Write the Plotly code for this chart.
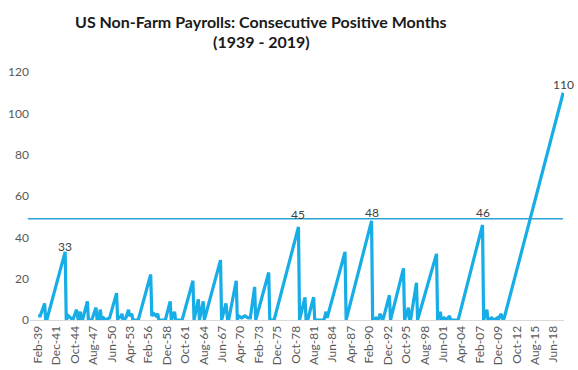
import plotly.graph_objects as go

# Vertices of the monthly streak series (month, consecutive positive months)
dates = [
    "1939-02", "1939-06", "1940-02", "1940-04", "1940-06", "1943-04", "1943-06", "1943-10",
    "1944-02", "1944-06", "1945-01", "1945-04", "1945-08", "1945-10", "1945-12", "1946-09",
    "1946-11", "1947-05", "1948-01", "1948-03", "1948-05", "1948-09", "1948-11", "1949-03",
    "1949-06", "1950-02", "1951-03", "1951-05", "1951-08", "1951-10", "1952-01", "1952-03",
    "1952-08", "1953-01", "1953-03", "1953-07", "1953-09", "1954-07", "1956-06", "1956-08",
    "1956-12", "1957-04", "1957-07", "1957-09", "1958-09", "1959-06", "1959-08", "1960-02",
    "1960-04", "1961-04", "1962-12", "1963-02", "1963-10", "1963-12", "1964-07", "1964-09",
    "1967-03", "1967-05", "1968-01", "1968-04", "1968-06", "1969-08", "1969-10", "1969-12",
    "1970-06", "1970-12", "1971-06", "1971-10", "1972-06", "1972-08", "1974-08", "1974-10",
    "1975-06", "1979-03", "1979-05", "1980-03", "1980-05", "1980-08", "1981-07", "1981-09",
    "1983-02", "1983-06", "1983-08", "1986-05", "1986-07", "1990-06", "1990-08", "1991-02",
    "1991-06", "1991-10", "1992-02", "1992-04", "1993-03", "1993-05", "1995-05", "1995-07",
    "1996-02", "1996-04", "1996-06", "1997-05", "1997-07", "2000-06", "2000-08", "2001-01",
    "2001-03", "2001-08", "2001-12", "2002-06", "2002-08", "2003-10", "2007-07", "2007-09",
    "2008-03", "2008-05", "2008-12", "2009-04", "2009-10", "2009-12", "2010-05", "2010-07",
    "2010-09", "2010-11", "2019-12",
]
streak = [
    2, 2, 8, 0, 0, 33, 0, 2,
    1, 0, 5, 0, 4, 0, 0, 9,
    0, 0, 6, 0, 0, 5, 0, 1,
    0, 1, 13, 0, 2, 1, 3, 0,
    1, 5, 2, 3, 0, 0, 22, 2,
    3, 2, 3, 0, 0, 9, 0, 4,
    0, 0, 19, 0, 10, 0, 9, 0,
    29, 0, 8, 0, 0, 19, 0, 2,
    1, 2, 1, 1, 16, 0, 23, 0,
    0, 45, 0, 11, 0, 0, 11, 0,
    0, 4, 1, 33, 0, 48, 0, 1,
    0, 3, 0, 1, 12, 0, 25, 0,
    6, 0, 0, 18, 0, 32, 0, 4,
    0, 1, 0, 2, 0, 0, 46, 0,
    5, 0, 1, 0, 1, 0, 3, 1,
    0, 1, 110,
]

# Peaks that carry a value label
label_dates = ["1943-04", "1979-03", "1990-06", "2007-07", "2019-12"]
label_values = [33, 45, 48, 46, 110]
label_shift = [5, 13, 8, 12, 8]

# Reference line (previous record level)
record_level = 49

title_lines = ["US Non-Farm Payrolls: Consecutive Positive Months", "(1939 - 2019)"]

tick_labels = [
    "Feb-39", "Dec-41", "Oct-44", "Aug-47", "Jun-50", "Apr-53", "Feb-56", "Dec-58",
    "Oct-61", "Aug-64", "Jun-67", "Apr-70", "Feb-73", "Dec-75", "Oct-78", "Aug-81",
    "Jun-84", "Apr-87", "Feb-90", "Dec-92", "Oct-95", "Aug-98", "Jun-01", "Apr-04",
    "Feb-07", "Dec-09", "Oct-12", "Aug-15", "Jun-18",
]
y_ticks = [0, 20, 40, 60, 80, 100, 120]

MONTHS = ["Jan", "Feb", "Mar", "Apr", "May", "Jun", "Jul", "Aug", "Sep", "Oct", "Nov", "Dec"]


def label_to_date(lbl):
    mon, yy = lbl.split("-")
    yy = int(yy)
    year = 1900 + yy if yy >= 30 else 2000 + yy
    return f"{year}-{MONTHS.index(mon) + 1:02d}-01"


tick_vals = [label_to_date(t) for t in tick_labels]

BLUE = "#17ade6"
FONT = "Lato, 'Open Sans', sans-serif"
W, H = 578, 370
ML, MR, MT, MB = 30, 14, 72, 50
PH = H - MT - MB
PW = W - ML - MR

fig = go.Figure()
fig.add_trace(go.Scatter(
    x=[d + "-01" for d in dates], y=streak, mode="lines",
    line=dict(color=BLUE, width=3.2), hoverinfo="x+y", showlegend=False,
))

fig.add_shape(type="line", xref="paper", yref="y", x0=-0.004, x1=0.998,
              y0=record_level, y1=record_level,
              line=dict(color="#2aa3d2", width=1.5))

for d, v, s in zip(label_dates, label_values, label_shift):
    fig.add_annotation(x=d + "-01", y=v, text=str(v), showarrow=False,
                       yanchor="middle", yshift=s,
                       font=dict(family=FONT, size=12, color="#404040"))

# Two-line title (centres at 22 px and 42 px from the top)
for line, cy in zip(title_lines, [22, 42]):
    fig.add_annotation(xref="paper", yref="paper",
                       x=(261 - ML) / PW, y=1 + (MT - cy) / PH,
                       xanchor="center", yanchor="middle", showarrow=False,
                       text=f"<b>{line}</b>",
                       font=dict(family=FONT, size=16, color="#1a1a1a"))

fig.update_layout(
    width=W, height=H,
    margin=dict(l=ML, r=MR, t=MT, b=MB, autoexpand=False),
    paper_bgcolor="white", plot_bgcolor="white",
    font=dict(family=FONT, size=12, color="#595959"),
)
fig.update_xaxes(
    type="date", range=["1937-11-01", "2020-01-15"], automargin=False,
    tickmode="array", tickvals=tick_vals, ticktext=tick_labels,
    tickangle=-90, showgrid=False, zeroline=False,
    showline=True, linecolor="#d9d9d9", linewidth=1, ticks="",
    tickfont=dict(family=FONT, size=12, color="#595959"),
)
fig.update_yaxes(
    range=[0, 120], tickmode="array", tickvals=y_ticks, automargin=False,
    showgrid=False, zeroline=False, showline=False, ticks="",
    tickfont=dict(family=FONT, size=12, color="#595959"),
)

fig.write_html("out.html", config={"displayModeBar": False},
               post_script="document.body.style.margin='0';")
